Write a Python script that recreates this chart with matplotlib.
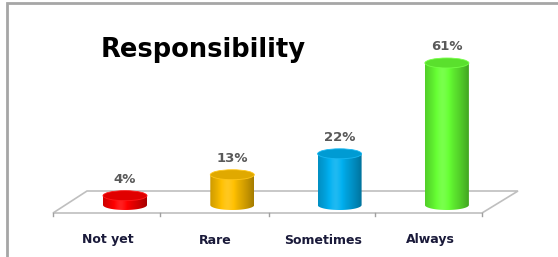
import numpy as np
import matplotlib
matplotlib.use("Agg")
import matplotlib.pyplot as plt
from matplotlib.path import Path
from matplotlib.patches import Ellipse, PathPatch, Polygon
from matplotlib.colors import to_rgb

categories = ["Not yet", "Rare", "Sometimes", "Always"]
values = [4, 13, 22, 61]
labels = ["4%", "13%", "22%", "61%"]
bar_colors = ["#FF0000", "#FFC000", "#00B0F0", "#66FF33"]

W, H = 558, 257
fig = plt.figure(figsize=(W / 100, H / 100), dpi=100)
ax = fig.add_axes([0, 0, 1, 1])

# pixel -> data mapping (bars at px 125 + 107.3*i, base at px 205, 61 -> px 63)
x0_px, dx_px = 125, 107.3
y0_px, unit_px = 205, 142 / 61
def px(xp, yp):
    return (xp - x0_px) / dx_px, (y0_px - yp) / unit_px

ax.set_xlim(px(0, 0)[0], px(W, 0)[0])
ax.set_ylim(px(0, H)[1], px(0, 0)[1])
ax.axis("off")

# border
ax.plot(*zip(px(7, H), px(7, 3), px(W, 3)), color="#a6a6a6", lw=2, solid_joinstyle="miter")

# floor
floor = [px(53, 213), px(482, 213), px(518, 191), px(87, 191)]
ax.add_patch(Polygon(floor, closed=True, facecolor="white", edgecolor="#bfbfbf", lw=1.2))
for tx in [53, 160, 269, 375, 482]:
    ax.plot(*zip(px(tx, 213), px(tx, 216)), color="#a0a0a0", lw=1)

bw = 44 / dx_px
eh = 10 / unit_px


def shade(c, f):
    r = np.array(to_rgb(c))
    return np.clip(r * f, 0, 1) if f < 1 else np.clip(r + (1 - r) * (f - 1), 0, 1)

for i, (v, c) in enumerate(zip(values, bar_colors)):
    left, right = i - bw / 2, i + bw / 2
    t = np.linspace(np.pi, 2 * np.pi, 40)
    bottom = np.column_stack([i + bw / 2 * np.cos(t), eh / 2 * np.sin(t)])
    verts = np.vstack([bottom, [[right, v], [left, v], bottom[0]]])
    path = Path(verts, closed=True)
    patch = PathPatch(path, facecolor="none", edgecolor="none")
    ax.add_patch(patch)
    xs = np.linspace(0, 1, 60)
    f = 1 - 0.35 * np.abs(xs - 0.4) ** 1.5 / 0.6 ** 1.5
    f = f + 0.12 * np.exp(-((xs - 0.4) / 0.15) ** 2)
    grad = np.array([shade(c, k) for k in f])[None, :, :]
    im = ax.imshow(grad, extent=[left, right, -eh / 2, v], aspect="auto",
                   interpolation="bilinear", zorder=3)
    im.set_clip_path(patch)
    ax.add_patch(Ellipse((i, v), bw, eh, facecolor=shade(c, 0.88),
                         edgecolor=shade(c, 1.1), lw=0.6, zorder=4))
    ax.text(i, v + eh / 2 + 2, labels[i], ha="center", va="bottom",
            fontsize=9.5, fontweight="bold", color="#595959",
            family="DejaVu Sans", zorder=5)

for i, cat in enumerate(categories):
    ax.text(px(x0_px + dx_px * i - 17, 0)[0], px(0, 240)[1], cat,
            ha="center", va="center", fontsize=9, fontweight="bold",
            color="#1a1a3a", family="DejaVu Sans")

fig.text(101 / W, 1 - 57 / H, "Responsibility", ha="left", va="baseline",
         fontsize=18.5, fontweight="bold", color="black", family="DejaVu Sans")

fig.savefig("out.png", dpi=100)
